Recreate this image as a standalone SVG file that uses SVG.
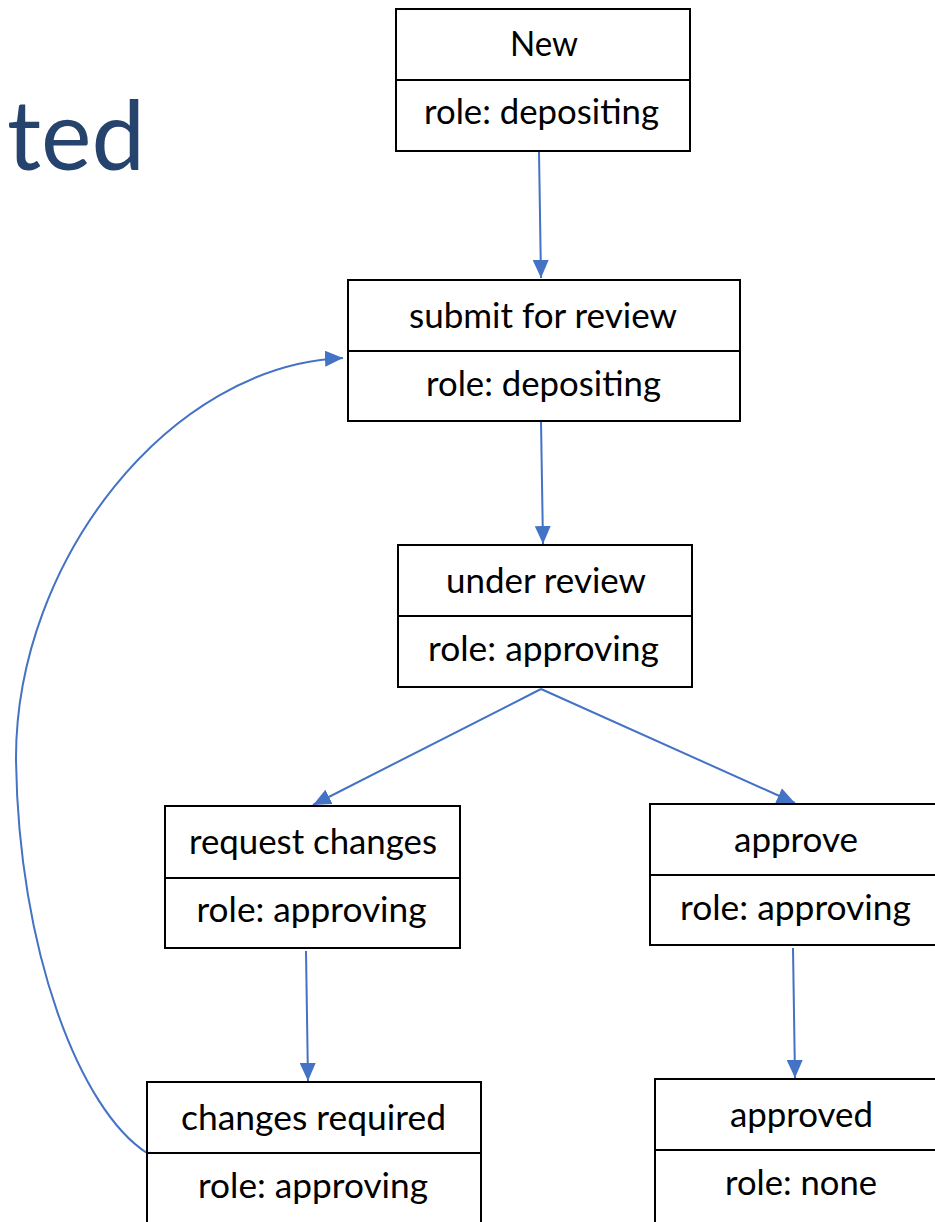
<svg xmlns="http://www.w3.org/2000/svg" width="935" height="1222" viewBox="0 0 935 1222">
<style>
.box{fill:#fff;stroke:#000;stroke-width:2}
.div{stroke:#000;stroke-width:2}
.t{font-family:Lato,"Liberation Sans",sans-serif;font-size:34px;fill:#000;text-anchor:middle}
.c{fill:none;stroke:#4472C4;stroke-width:2}
.title{font-family:Lato,"Liberation Sans",sans-serif;font-weight:400;font-size:96px;fill:#26436E}
</style>
<defs>
<marker id="ah" markerUnits="userSpaceOnUse" markerWidth="18" markerHeight="16" refX="18" refY="8" orient="auto">
<path d="M0,0 L18,8 L0,16 z" fill="#4472C4"/>
</marker>
</defs>
<rect width="935" height="1222" fill="#fff"/>
<text class="title" x="7" y="170" textLength="138" lengthAdjust="spacingAndGlyphs">ted</text>

<g id="connectors">
<path class="c" d="M539,152 L541,278" marker-end="url(#ah)"/>
<path class="c" d="M541,421 L543,544" marker-end="url(#ah)"/>
<path class="c" d="M541,689 L313,805" marker-end="url(#ah)"/>
<path class="c" d="M541,689 L795,803" marker-end="url(#ah)"/>
<path class="c" d="M306,951 L308,1081" marker-end="url(#ah)"/>
<path class="c" d="M793,948 L795,1078" marker-end="url(#ah)"/>
<path class="c" d="M147,1153 C80,1110 18,950 16,758 C16,560 170,365 343,358" marker-end="url(#ah)"/>
</g>

<g id="node-new">
<rect class="box" x="396" y="9" width="294" height="142"/>
<line class="div" x1="396" y1="80" x2="690" y2="80"/>
<text class="t" x="544" y="56" textLength="68" lengthAdjust="spacingAndGlyphs">New</text>
<text class="t" x="541.5" y="124" textLength="235" lengthAdjust="spacingAndGlyphs">role: depositing</text>
</g>

<g id="node-submit">
<rect class="box" x="348" y="280" width="392" height="141"/>
<line class="div" x1="348" y1="351" x2="740" y2="351"/>
<text class="t" x="543" y="328" textLength="268" lengthAdjust="spacingAndGlyphs">submit for review</text>
<text class="t" x="543.5" y="396" textLength="235" lengthAdjust="spacingAndGlyphs">role: depositing</text>
</g>

<g id="node-under-review">
<rect class="box" x="398" y="545" width="294" height="142"/>
<line class="div" x1="398" y1="616" x2="692" y2="616"/>
<text class="t" x="546" y="593" textLength="200" lengthAdjust="spacingAndGlyphs">under review</text>
<text class="t" x="543.5" y="661" textLength="231" lengthAdjust="spacingAndGlyphs">role: approving</text>
</g>

<g id="node-request-changes">
<rect class="box" x="165" y="806" width="295" height="142"/>
<line class="div" x1="165" y1="878" x2="460" y2="878"/>
<text class="t" x="313" y="854" textLength="248" lengthAdjust="spacingAndGlyphs">request changes</text>
<text class="t" x="311.5" y="922" textLength="230" lengthAdjust="spacingAndGlyphs">role: approving</text>
</g>

<g id="node-approve">
<rect class="box" x="650" y="804" width="292" height="141"/>
<line class="div" x1="650" y1="875" x2="942" y2="875"/>
<text class="t" x="796" y="852" textLength="124" lengthAdjust="spacingAndGlyphs">approve</text>
<text class="t" x="795.5" y="920" textLength="231" lengthAdjust="spacingAndGlyphs">role: approving</text>
</g>

<g id="node-changes-required">
<rect class="box" x="147" y="1082" width="334" height="150"/>
<line class="div" x1="147" y1="1153" x2="481" y2="1153"/>
<text class="t" x="313.5" y="1130" textLength="265" lengthAdjust="spacingAndGlyphs">changes required</text>
<text class="t" x="313" y="1198" textLength="230" lengthAdjust="spacingAndGlyphs">role: approving</text>
</g>

<g id="node-approved">
<rect class="box" x="655" y="1079" width="292" height="150"/>
<line class="div" x1="655" y1="1150" x2="947" y2="1150"/>
<text class="t" x="801.5" y="1127" textLength="143" lengthAdjust="spacingAndGlyphs">approved</text>
<text class="t" x="801" y="1195" textLength="152" lengthAdjust="spacingAndGlyphs">role: none</text>
</g>
</svg>
